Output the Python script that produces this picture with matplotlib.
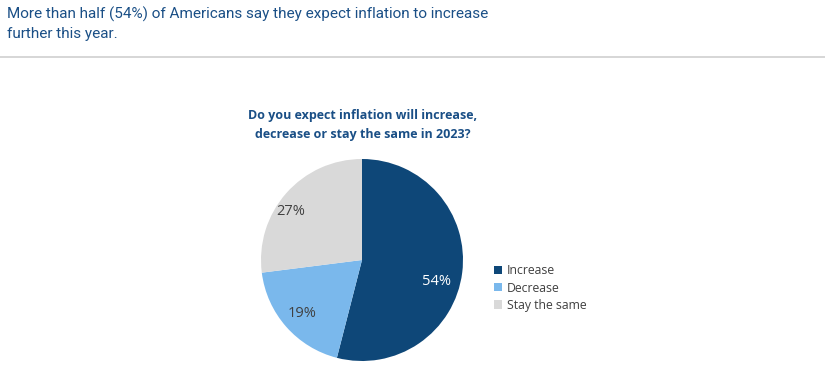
import matplotlib
matplotlib.use('Agg')
import matplotlib.pyplot as plt
from matplotlib.patches import Patch
import numpy as np

labels = ['Increase', 'Decrease', 'Stay the same']
values = [54, 19, 27]
colors = ['#0e4778', '#7ab8ec', '#d9d9d9']
pct_colors = ['white', '#404040', '#404040']

title = 'More than half (54%) of Americans say they expect inflation to increase\nfurther this year.'
question = 'Do you expect inflation will increase,\ndecrease or stay the same in 2023?'

plt.rcParams['font.family'] = ['Open Sans', 'DejaVu Sans']

fig = plt.figure(figsize=(8.25, 3.83), dpi=100)
fig.patch.set_facecolor('white')

# slide title + rule underneath
fig.text(0.008, 0.982, title, ha='left', va='top', fontsize=11.0,
         color='#1a4f86', linespacing=1.45, family=['Roboto', 'DejaVu Sans'])
fig.add_artist(plt.Line2D([0, 1], [0.851, 0.851], color='#cfcfcf', lw=1.2))

fig.text(0.44, 0.674, question, ha='center', va='center', fontsize=9.0,
         fontweight='bold', color='#1a4f86', linespacing=1.6)

# pie axes: center ~ (362, 260) px, radius ~101 px
ax = fig.add_axes([(362 - 103) / 825, (383 - 260 - 103) / 383, 206 / 825, 206 / 383])
wedges, texts, autotexts = ax.pie(values, colors=colors, startangle=90,
                                  counterclock=False, autopct='%d%%',
                                  pctdistance=0.78, radius=101 / 103,
                                  wedgeprops=dict(linewidth=0))
ax.set_xlim(-1, 1)
ax.set_ylim(-1, 1)
ax.set_aspect('equal')

# excel-like label placement: per-slice distance and small angular nudge
dists = [0.75, 0.78, 0.84]
nudges = [-9, 0, 7]
for w, t, c, d, n in zip(wedges, autotexts, pct_colors, dists, nudges):
    ang = np.deg2rad((w.theta1 + w.theta2) / 2 + n)
    t.set_position((d * np.cos(ang), d * np.sin(ang)))
    t.set_color(c)
    t.set_fontsize(10.5)

handles = [Patch(facecolor=c, edgecolor='none') for c in colors]
fig.legend(handles, labels, loc='center left', bbox_to_anchor=(0.585, 0.248),
           frameon=False, fontsize=8.8, handlelength=0.65, handleheight=0.65,
           handletextpad=0.45, labelspacing=0.35, labelcolor='#404040')

fig.savefig('out.png', dpi=100, facecolor='white')
